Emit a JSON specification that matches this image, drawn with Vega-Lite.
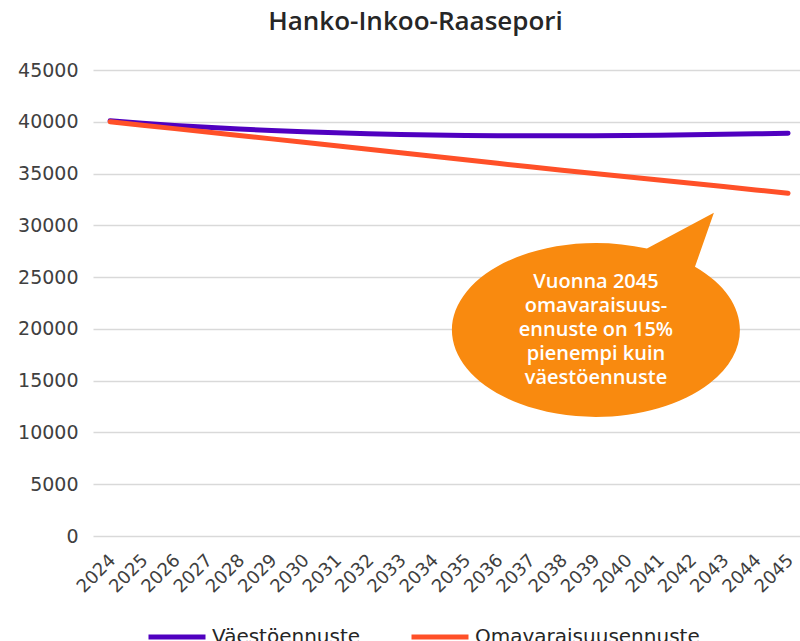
{
  "$schema": "https://vega.github.io/schema/vega-lite/v6.json",
  "width": 707,
  "height": 466,
  "autosize": {"type": "none"},
  "padding": {"left": 93, "top": 70, "right": 0, "bottom": 105},
  "background": "white",
  "config": {"view": {"stroke": null}, "font": "DejaVu Sans", "axisX": {"labelOverlap": false}},
  "title": {"text": "Hanko-Inkoo-Raasepori", "anchor": "middle", "dx": -31, "fontSize": 26, "font": "Open Sans", "fontWeight": 600, "color": "#262626", "offset": 26},
  "datasets": {
    "lines": [
      {"year": 2024, "series": "Väestöennuste", "value": 40100},
      {"year": 2025, "series": "Väestöennuste", "value": 39870},
      {"year": 2026, "series": "Väestöennuste", "value": 39650},
      {"year": 2027, "series": "Väestöennuste", "value": 39460},
      {"year": 2028, "series": "Väestöennuste", "value": 39300},
      {"year": 2029, "series": "Väestöennuste", "value": 39160},
      {"year": 2030, "series": "Väestöennuste", "value": 39040},
      {"year": 2031, "series": "Väestöennuste", "value": 38940},
      {"year": 2032, "series": "Väestöennuste", "value": 38850},
      {"year": 2033, "series": "Väestöennuste", "value": 38780},
      {"year": 2034, "series": "Väestöennuste", "value": 38720},
      {"year": 2035, "series": "Väestöennuste", "value": 38680},
      {"year": 2036, "series": "Väestöennuste", "value": 38650},
      {"year": 2037, "series": "Väestöennuste", "value": 38640},
      {"year": 2038, "series": "Väestöennuste", "value": 38640},
      {"year": 2039, "series": "Väestöennuste", "value": 38650},
      {"year": 2040, "series": "Väestöennuste", "value": 38670},
      {"year": 2041, "series": "Väestöennuste", "value": 38700},
      {"year": 2042, "series": "Väestöennuste", "value": 38740},
      {"year": 2043, "series": "Väestöennuste", "value": 38790},
      {"year": 2044, "series": "Väestöennuste", "value": 38840},
      {"year": 2045, "series": "Väestöennuste", "value": 38900},
      {"year": 2024, "series": "Omavaraisuusennuste", "value": 40000},
      {"year": 2025, "series": "Omavaraisuusennuste", "value": 39670},
      {"year": 2026, "series": "Omavaraisuusennuste", "value": 39340},
      {"year": 2027, "series": "Omavaraisuusennuste", "value": 39010},
      {"year": 2028, "series": "Omavaraisuusennuste", "value": 38680},
      {"year": 2029, "series": "Omavaraisuusennuste", "value": 38350},
      {"year": 2030, "series": "Omavaraisuusennuste", "value": 38020},
      {"year": 2031, "series": "Omavaraisuusennuste", "value": 37690},
      {"year": 2032, "series": "Omavaraisuusennuste", "value": 37350},
      {"year": 2033, "series": "Omavaraisuusennuste", "value": 37010},
      {"year": 2034, "series": "Omavaraisuusennuste", "value": 36670},
      {"year": 2035, "series": "Omavaraisuusennuste", "value": 36330},
      {"year": 2036, "series": "Omavaraisuusennuste", "value": 35990},
      {"year": 2037, "series": "Omavaraisuusennuste", "value": 35650},
      {"year": 2038, "series": "Omavaraisuusennuste", "value": 35320},
      {"year": 2039, "series": "Omavaraisuusennuste", "value": 35000},
      {"year": 2040, "series": "Omavaraisuusennuste", "value": 34690},
      {"year": 2041, "series": "Omavaraisuusennuste", "value": 34380},
      {"year": 2042, "series": "Omavaraisuusennuste", "value": 34060},
      {"year": 2043, "series": "Omavaraisuusennuste", "value": 33740},
      {"year": 2044, "series": "Omavaraisuusennuste", "value": 33420},
      {"year": 2045, "series": "Omavaraisuusennuste", "value": 33100}
    ]
  },
  "layer": [
    {
      "data": {"name": "lines"},
      "mark": {"type": "line", "strokeWidth": 5, "strokeCap": "round", "strokeJoin": "round"},
      "encoding": {
        "x": {
          "field": "year", "type": "quantitative",
          "scale": {"domain": [2023.47, 2045.37], "nice": false, "zero": false},
          "axis": {"values": [2024,2025,2026,2027,2028,2029,2030,2031,2032,2033,2034,2035,2036,2037,2038,2039,2040,2041,2042,2043,2044,2045], "tickCount": 40, "format": "d", "labelAngle": -45, "grid": false, "domain": false, "ticks": false, "title": null, "labelFontSize": 18, "labelColor": "#404040", "labelPadding": 15, "labelOffset": -4, "labelOverlap": false, "labelBound": false, "labelFlush": false}
        },
        "y": {
          "field": "value", "type": "quantitative",
          "scale": {"domain": [0, 45000], "nice": false},
          "axis": {"values": [0,5000,10000,15000,20000,25000,30000,35000,40000,45000], "tickCount": 20, "format": "d", "title": null, "domain": false, "ticks": false, "gridColor": "#d9d9d9", "gridWidth": 1.5, "labelFontSize": 19, "labelPadding": 15, "labelColor": "#404040"}
        },
        "color": {
          "field": "series", "type": "nominal",
          "scale": {"domain": ["Väestöennuste", "Omavaraisuusennuste"], "range": ["#5000C0", "#FF5028"]},
          "legend": {"orient": "none", "legendX": 53, "legendY": 536, "direction": "horizontal", "title": null, "padding": 0, "symbolType": "stroke", "symbolStrokeWidth": 5, "symbolSize": 3249, "labelFontSize": 20, "labelLimit": 400, "labelOffset": 4, "labelColor": "#262626", "columnPadding": 40}
        }
      }
    },
    {
      "data": {"values": [{"year": 2039.05, "value": 19900}]},
      "mark": {"type": "point", "shape": "M0.354,-0.565L0.819,-0.813L0.6875,-0.4386A1,0.604,0,1,1,0.354,-0.565Z", "size": 82944, "filled": true, "fill": "#F98A0F", "opacity": 1, "strokeWidth": 0},
      "encoding": {
        "x": {"field": "year", "type": "quantitative"},
        "y": {"field": "value", "type": "quantitative"}
      }
    },
    {
      "data": {"values": [{"year": 2039.05, "value": 24570, "label": "Vuonna 2045\nomavaraisuus-\nennuste on 15%\npienempi kuin\nväestöennuste"}]},
      "mark": {"type": "text", "lineBreak": "\n", "lineHeight": 24, "fontSize": 20, "color": "white", "fontWeight": 600, "font": "Open Sans", "align": "center", "baseline": "middle"},
      "encoding": {
        "x": {"field": "year", "type": "quantitative"},
        "y": {"field": "value", "type": "quantitative"},
        "text": {"field": "label"}
      }
    }
  ]
}
